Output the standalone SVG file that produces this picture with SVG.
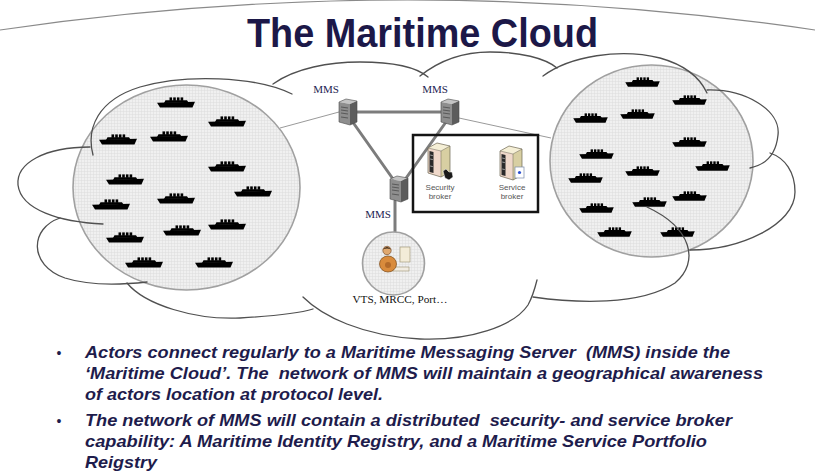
<svg xmlns="http://www.w3.org/2000/svg" xmlns:xlink="http://www.w3.org/1999/xlink" width="815" height="475" viewBox="0 0 815 475">
  <style>
    .cloud { fill: none; stroke: #505050; stroke-width: 1.3; stroke-linecap: round; }
    .sky { fill: none; stroke: #8a8a8a; stroke-width: 1.2; }
    .zone { fill: url(#grid); stroke: #a0a0a0; stroke-width: 1.6; }
    .link { stroke: #7c7c7c; stroke-width: 3; stroke-linecap: round; }
    .thin { stroke: #9a9a9a; stroke-width: 1; }
    .mms { font-family: "Liberation Serif", serif; font-size: 11px; fill: #1c1c52; text-anchor: middle; }
    .small { font-family: "Liberation Sans", sans-serif; font-size: 8px; fill: #555; text-anchor: middle; }
    .title { font-family: "Liberation Sans", Arial, sans-serif; font-weight: bold; font-size: 41px; fill: #1c1848; }
    .body { font-family: "Liberation Sans", Arial, sans-serif; font-weight: bold; font-style: italic; font-size: 17px; fill: #1e1c4c; white-space: pre; }
    .dot { font-family: "Liberation Sans", Arial, sans-serif; font-size: 14px; fill: #1e1c4c; text-anchor: middle; }
    .ship { fill: #000; }
  </style>
  <defs>
    <pattern id="grid" width="3" height="3" patternUnits="userSpaceOnUse">
      <rect width="3" height="3" fill="#f0f0f0"/>
      <path d="M0,0.3 H3 M0.3,0 V3" stroke="#dcdcdc" stroke-width="0.6"/>
    </pattern>
    <symbol id="ship" viewBox="0 0 38 11">
      <path d="M0,5.8 L38,4.8 L35.5,10.6 L3,10.6 Z"/>
      <path d="M7,6 L8.5,3.2 L30,3.2 L31.5,5.5 Z"/>
      <rect x="12.5" y="0.4" width="2.6" height="3.4"/>
      <rect x="16.2" y="0.4" width="2.6" height="3.4"/>
      <rect x="19.9" y="0.4" width="2.6" height="3.4"/>
      <rect x="23.6" y="0.4" width="2.6" height="3.4"/>
    </symbol>
    <symbol id="server" viewBox="0 0 21 28">
      <polygon points="2,4 9,1 20,3 13,6" fill="#c4c4c4"/>
      <polygon points="2,4 13,6 13,27 2,24" fill="#8e8e8e"/>
      <polygon points="13,6 20,3 20,24 13,27" fill="#5c5c5c"/>
      <path d="M4,9 L11,10 M4,12 L11,13 M4,15 L11,16 M4,19 L11,20" stroke="#5a5a5a" stroke-width="1.1"/>
      <polygon points="2,4 9,1 20,3 20,24 13,27 2,24" fill="none" stroke="#4a4a4a" stroke-width="0.6"/>
    </symbol>
    <symbol id="tower" viewBox="0 0 26 36">
      <polygon points="3,6 12,1 25,4 16,9" fill="#f5efd6"/>
      <polygon points="3,6 16,9 16,35 3,31" fill="#efd8ca"/>
      <polygon points="16,9 25,4 25,30 16,35" fill="#d8cfa2"/>
      <polygon points="4.5,9 8.5,10 8.5,31 4.5,30" fill="#2a2a2a"/>
      <path d="M5.2,13 L7.8,13.6 M5.2,17 L7.8,17.6 M5.2,24 L7.8,24.6" stroke="#bbb" stroke-width="0.8"/>
      <polygon points="3,6 12,1 25,4 25,30 16,35 3,31" fill="none" stroke="#6b6450" stroke-width="0.7"/>
      <path d="M3,6 L16,9 L25,4 M16,9 V35" fill="none" stroke="#6b6450" stroke-width="0.5"/>
    </symbol>
  </defs>

  <rect width="815" height="475" fill="#ffffff"/>

  <!-- outer sky arc behind the title -->
  <path class="sky" d="M0,30 Q408,-30 815,30"/>

  <!-- title -->
  <text class="title" x="247" y="47" textLength="351" lengthAdjust="spacingAndGlyphs">The Maritime Cloud</text>

  <!-- ship zones -->
  <g id="left-fleet">
    <ellipse class="zone" cx="186.5" cy="187.5" rx="113.5" ry="102.5"/>
    <g class="ship">
      <use xlink:href="#ship" x="157" y="97" width="38" height="11"/>
      <use xlink:href="#ship" x="208" y="116" width="38" height="11"/>
      <use xlink:href="#ship" x="99" y="134" width="38" height="11"/>
      <use xlink:href="#ship" x="150" y="131" width="38" height="11"/>
      <use xlink:href="#ship" x="208" y="161" width="38" height="11"/>
      <use xlink:href="#ship" x="106" y="174" width="38" height="11"/>
      <use xlink:href="#ship" x="234" y="186" width="38" height="11"/>
      <use xlink:href="#ship" x="157" y="193" width="38" height="11"/>
      <use xlink:href="#ship" x="92" y="199" width="38" height="11"/>
      <use xlink:href="#ship" x="208" y="219" width="38" height="11"/>
      <use xlink:href="#ship" x="163" y="225" width="38" height="11"/>
      <use xlink:href="#ship" x="106" y="232" width="38" height="11"/>
      <use xlink:href="#ship" x="125" y="257" width="38" height="11"/>
      <use xlink:href="#ship" x="195" y="257" width="38" height="11"/>
    </g>
  </g>

  <g id="right-fleet">
    <ellipse class="zone" cx="651.5" cy="161" rx="101.5" ry="96"/>
    <g class="ship">
      <use xlink:href="#ship" x="625" y="77" width="35" height="10"/>
      <use xlink:href="#ship" x="672" y="95" width="35" height="10"/>
      <use xlink:href="#ship" x="573" y="113" width="35" height="10"/>
      <use xlink:href="#ship" x="620" y="109" width="35" height="10"/>
      <use xlink:href="#ship" x="672" y="137" width="35" height="10"/>
      <use xlink:href="#ship" x="579" y="149" width="35" height="10"/>
      <use xlink:href="#ship" x="695" y="161" width="35" height="10"/>
      <use xlink:href="#ship" x="625" y="166" width="35" height="10"/>
      <use xlink:href="#ship" x="568" y="173" width="35" height="10"/>
      <use xlink:href="#ship" x="672" y="191" width="35" height="10"/>
      <use xlink:href="#ship" x="632" y="197" width="35" height="10"/>
      <use xlink:href="#ship" x="579" y="203" width="35" height="10"/>
      <use xlink:href="#ship" x="597" y="227" width="35" height="10"/>
      <use xlink:href="#ship" x="660" y="227" width="35" height="10"/>
    </g>
  </g>

  <!-- cloud outline, drawn lobe by lobe -->
  <g id="cloud-outline" class="cloud">
    <path d="M93,155 C86,128 98,100 140,87 C185,74 255,76 292,94"/>
    <path d="M90,147 C45,147 16,163 18,185 C21,210 60,222 103,224"/>
    <path d="M60,218 C30,228 28,265 65,278 C90,286 120,285 147,282"/>
    <path d="M127,283 C145,305 195,320 240,318 C275,316 300,313 313,309"/>
    <path d="M303,297 C322,316 362,336 420,339 C470,341 514,326 528,305 C533,296 535,288 537,280"/>
    <path d="M533,297 C575,303 640,306 675,283 C700,262 692,228 647,207"/>
    <path d="M690,250 C740,250 795,225 795,192 C795,172 785,158 770,153"/>
    <path d="M707,90 C745,89 781,110 778,135 C776,155 765,165 750,168"/>
    <path d="M543,76 C570,56 620,48 660,58 C685,65 700,78 707,93"/>
    <path d="M420,76 C440,60 465,52 490,52 C520,52 545,58 557,68"/>
    <path d="M273,84 C295,68 330,62 360,62 C390,62 415,66 428,77"/>
  </g>

  <!-- connectors -->
  <g id="connectors">
    <line class="thin" x1="280" y1="128" x2="339" y2="112"/>
    <line class="thin" x1="459" y1="118" x2="551" y2="138"/>
    <line class="link" x1="357" y1="112" x2="441" y2="112"/>
    <line class="link" x1="352" y1="121" x2="393" y2="179"/>
    <line class="link" x1="446" y1="122" x2="404" y2="181"/>
    <line class="link" x1="395" y1="201" x2="395" y2="232" stroke-width="2.4"/>
  </g>

  <!-- messaging servers -->
  <g id="mms-1">
    <use xlink:href="#server" x="337" y="98" width="21" height="28"/>
    <text class="mms" x="326" y="93">MMS</text>
  </g>
  <g id="mms-2">
    <use xlink:href="#server" x="439" y="98" width="21" height="28"/>
    <text class="mms" x="435" y="93">MMS</text>
  </g>
  <g id="mms-3">
    <use xlink:href="#server" x="388" y="175" width="21" height="28"/>
    <text class="mms" x="378" y="218">MMS</text>
  </g>

  <!-- broker capability -->
  <g id="broker-box">
    <rect x="413" y="135" width="125" height="77" fill="none" stroke="#141414" stroke-width="2.5"/>
    <g id="security-broker">
      <use xlink:href="#tower" x="425" y="142" width="26" height="36"/>
      <path d="M443,171 L446,169 L449,172 L452,172 L453,177 L449,180 L445,178 Z" fill="#1a1a1a" stroke="#fff" stroke-width="0.5"/>
      <text class="small" x="440" y="190">Security</text>
      <text class="small" x="440" y="199">broker</text>
    </g>
    <g id="service-broker">
      <use xlink:href="#tower" x="497" y="145" width="26" height="36"/>
      <rect x="515" y="167" width="9" height="11" fill="#fff" stroke="#7a8aa8" stroke-width="0.7"/>
      <circle cx="519.5" cy="172.5" r="1.6" fill="#2a4fd0"/>
      <text class="small" x="512" y="190">Service</text>
      <text class="small" x="512" y="199">broker</text>
    </g>
  </g>

  <!-- shore-based actors -->
  <g id="vts-actors">
    <ellipse class="zone" cx="393.5" cy="263.5" rx="31" ry="31.5"/>
    <rect x="400" y="247" width="10" height="15" fill="#f3ecd8" stroke="#9a9070" stroke-width="0.6"/>
    <rect x="392" y="267" width="17" height="4" fill="#f1ece2" stroke="#9a9070" stroke-width="0.6"/>
    <ellipse cx="388" cy="264" rx="8.5" ry="8" fill="#d98b3c" stroke="#7a4a1a" stroke-width="0.7"/>
    <circle cx="387" cy="250.5" r="4.2" fill="#e0a86e" stroke="#6a4020" stroke-width="0.6"/>
    <path d="M382.8,249.5 Q387,244.5 391.2,249.5 Q387,247.5 382.8,249.5 Z" fill="#3a2a1a"/>
    <circle cx="388" cy="265" r="3" fill="#b36a2a"/>
    <text class="mms" x="400" y="303" textLength="95" lengthAdjust="spacingAndGlyphs" style="fill:#111">VTS, MRCC, Port…</text>
  </g>

  <!-- explanatory bullets -->
  <g id="notes">
    <text class="dot" x="59" y="358">•</text>
    <text class="body" x="85" y="358" textLength="645" lengthAdjust="spacingAndGlyphs">Actors connect regularly to a Maritime Messaging Server  (MMS) inside the</text>
    <text class="body" x="85" y="379" textLength="678" lengthAdjust="spacingAndGlyphs">‘Maritime Cloud’. The  network of MMS will maintain a geographical awareness</text>
    <text class="body" x="85" y="400" textLength="298" lengthAdjust="spacingAndGlyphs">of actors location at protocol level.</text>
    <text class="dot" x="59" y="426">•</text>
    <text class="body" x="85" y="426" textLength="647" lengthAdjust="spacingAndGlyphs">The network of MMS will contain a distributed  security- and service broker</text>
    <text class="body" x="85" y="447" textLength="622" lengthAdjust="spacingAndGlyphs">capability: A Maritime Identity Registry, and a Maritime Service Portfolio</text>
    <text class="body" x="85" y="468" textLength="72" lengthAdjust="spacingAndGlyphs">Reigstry</text>
  </g>
</svg>
